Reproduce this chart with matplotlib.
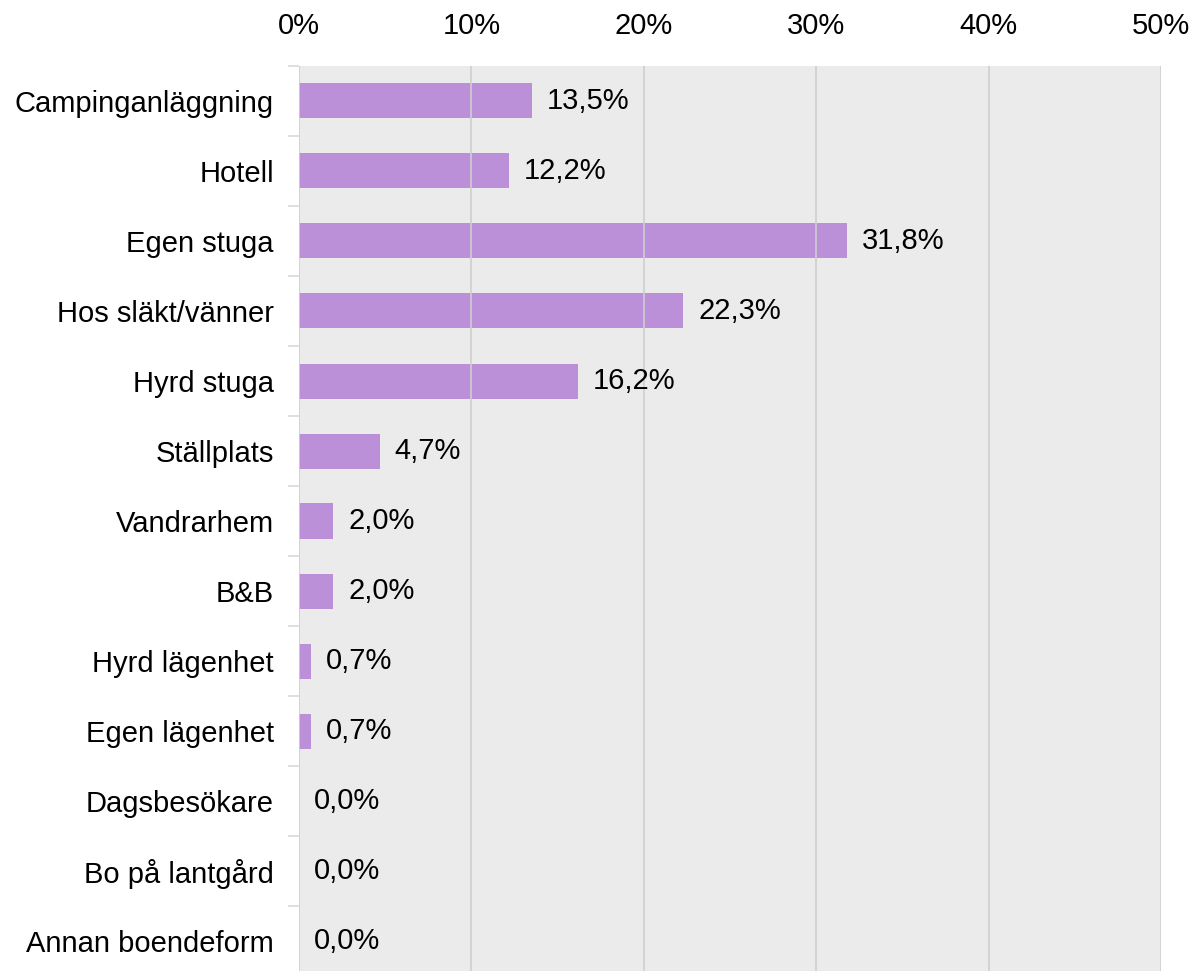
import matplotlib as mpl
from matplotlib import pyplot as plt
import numpy as np

# boendeform och andel (%)
categories = ["Campinganläggning", "Hotell", "Egen stuga", "Hos släkt/vänner",
              "Hyrd stuga", "Ställplats", "Vandrarhem", "B&B", "Hyrd lägenhet",
              "Egen lägenhet", "Dagsbesökare", "Bo på lantgård", "Annan boendeform"]
values = [13.5, 12.2, 31.8, 22.3, 16.2, 4.7, 2.0, 2.0, 0.7, 0.7, 0.0, 0.0, 0.0]
xticks = [0, 10, 20, 30, 40, 50]

mpl.rcParams['font.family'] = ['Liberation Sans', 'DejaVu Sans']
fs = 21

fig = plt.figure(figsize=(11.97, 9.71), dpi=100)
ax = fig.add_axes([299/1197, -5/971, (1161-299)/1197, (971-66+5)/971])
ax.set_facecolor("#ebebeb")

y = np.arange(len(categories))
ax.barh(y, values, height=0.5, color="#b07ad4", alpha=0.8, zorder=1)
for yi, v in zip(y, values):
    ax.text(v + 0.85, yi, f"{v:.1f}%".replace(".", ","), va="center", ha="left",
            fontsize=fs, color="black", zorder=3)

ax.set_xlim(0, 50)
ax.set_ylim(len(categories) - 0.5, -0.5)
ax.set_xticks(xticks)
ax.set_xticklabels([f"{t}%" for t in xticks], fontsize=fs)
ax.xaxis.tick_top()
ax.tick_params(axis='x', length=0, pad=19)
ax.grid(axis='x', color="#cfcfcf", linewidth=1.2, zorder=2)
ax.set_axisbelow(False)

ax.set_yticks(y)
ax.set_yticklabels(categories, fontsize=fs)
ax.tick_params(axis='y', length=0, pad=18)
ax.set_yticks(np.arange(len(categories) + 1) - 0.5, minor=True)
ax.tick_params(axis='y', which='minor', length=8, color="#d9d9d9", width=1.2)

for s in ax.spines.values():
    s.set_visible(False)

plt.savefig("out.png", dpi=100)
